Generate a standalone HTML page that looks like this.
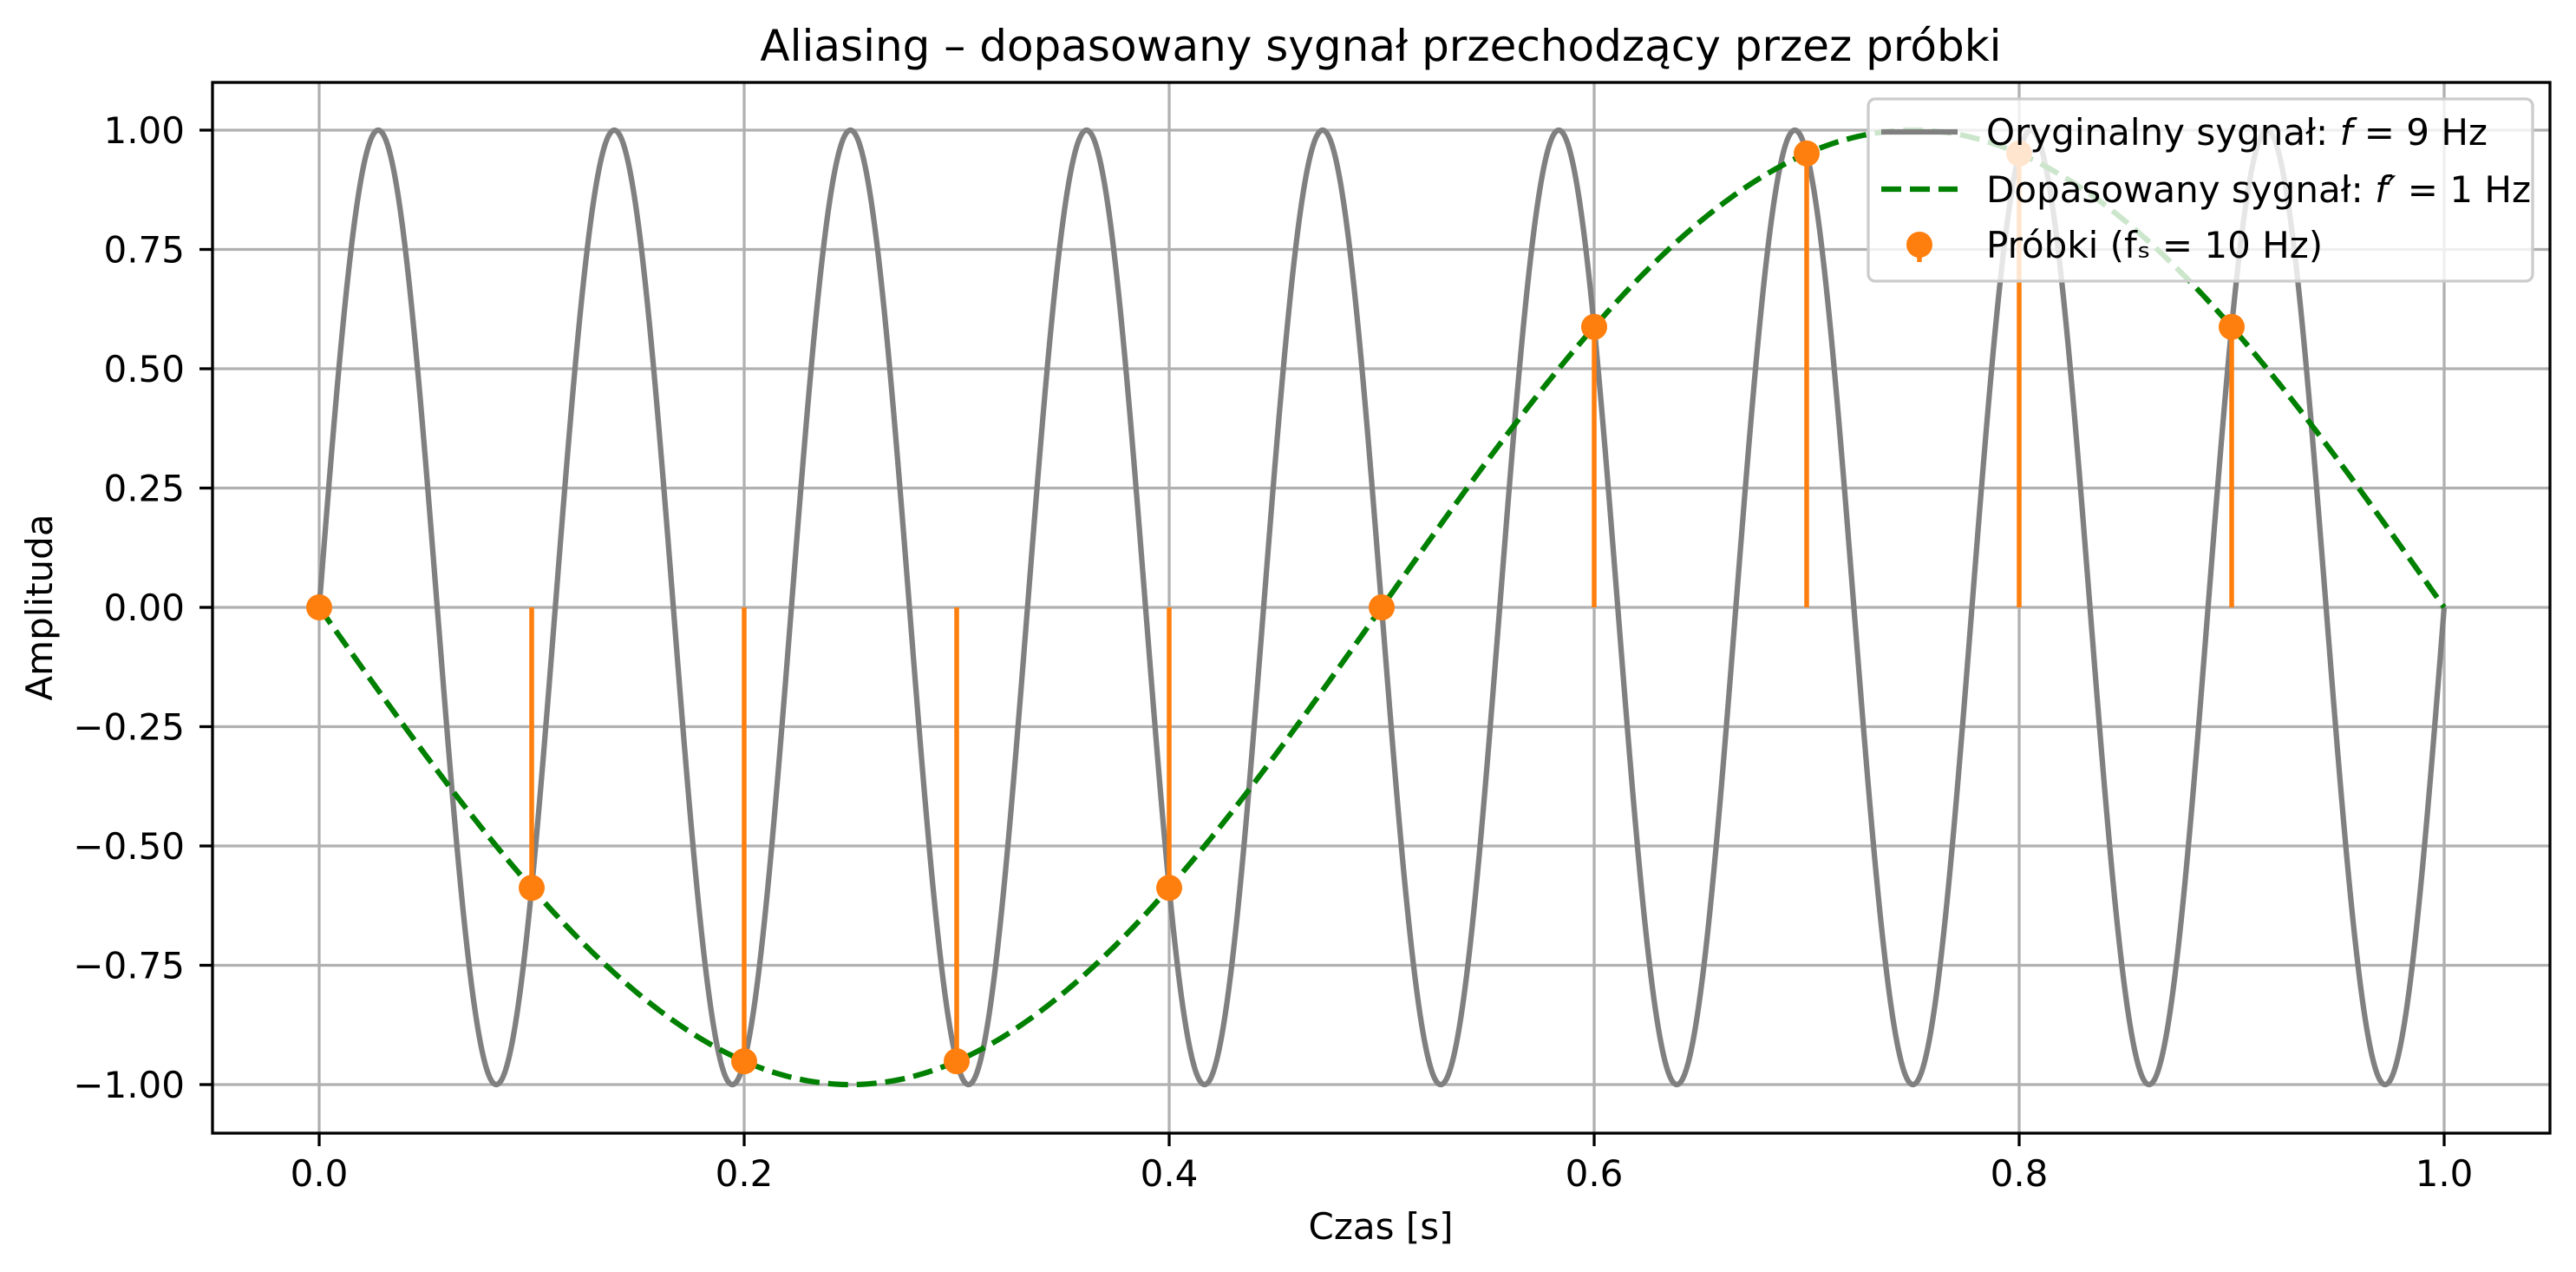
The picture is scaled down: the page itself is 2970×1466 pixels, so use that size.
<!DOCTYPE html>
<html><head><meta charset="utf-8"><style>
html,body{margin:0;padding:0;background:#fff}
svg{display:block}
text{font-family:"DejaVu Sans","Liberation Sans",sans-serif;fill:#000}
</style></head><body>
<svg id="s" width="2970" height="1466" viewBox="0 0 2970 1466" xmlns="http://www.w3.org/2000/svg">
<rect width="2970" height="1466" fill="#fff"/>
<g id="grid" stroke="#b0b0b0" stroke-width="3.3"></g>
<path id="orig" fill="none" stroke="#808080" stroke-width="6.25" stroke-linejoin="round"/>
<path id="fit" fill="none" stroke="#008000" stroke-width="6.25" stroke-dasharray="23 10"/>
<g id="stems" stroke="#ff7f0e" stroke-width="5.5"></g>
<g id="marks" fill="#ff7f0e"></g>
<rect x="245" y="95" width="2695" height="1211" fill="none" stroke="#000" stroke-width="3.3"/>
<g id="ticks" stroke="#000" stroke-width="3.3"></g>
<g id="labels" font-size="42"></g>
<text x="1592" y="70" font-size="50" text-anchor="middle">Aliasing – dopasowany sygnał przechodzący przez próbki</text>
<text x="1592" y="1428" font-size="42" text-anchor="middle">Czas [s]</text>
<text transform="translate(60,700) rotate(-90)" font-size="42" text-anchor="middle">Amplituda</text>
<g>
<rect x="2154" y="114" width="766" height="210" rx="8" fill="#fff" fill-opacity="0.8" stroke="#cccccc" stroke-width="3.3"/>
<line x1="2169" y1="152" x2="2257" y2="152" stroke="#808080" stroke-width="6.25"/>
<line x1="2169" y1="218" x2="2257" y2="218" stroke="#008000" stroke-width="6.25" stroke-dasharray="23 10"/>
<line x1="2213" y1="282" x2="2213" y2="302" stroke="#ff7f0e" stroke-width="5.5"/>
<circle cx="2213" cy="282" r="15" fill="#ff7f0e"/>
<text x="2290" y="167" font-size="42">Oryginalny sygnał: <tspan font-style="italic">f</tspan> = 9 Hz</text>
<text x="2290" y="233" font-size="42">Dopasowany sygnał: <tspan font-style="italic">f′</tspan> = 1 Hz</text>
<text x="2290" y="297" font-size="42">Próbki (fₛ = 10 Hz)</text>
</g>
</svg>
<script>
const X=t=>368+2450*t, Y=v=>700-550*v;
const ns="http://www.w3.org/2000/svg";
function el(p,tag,a,txt){const e=document.createElementNS(ns,tag);for(const k in a)e.setAttribute(k,a[k]);if(txt!=null)e.textContent=txt;document.getElementById(p).appendChild(e);}
for(let i=0;i<=5;i++){const x=X(i*0.2);el("grid","line",{x1:x,y1:95,x2:x,y2:1306});el("ticks","line",{x1:x,y1:1306,x2:x,y2:1321});el("labels","text",{x:x,y:1367,"text-anchor":"middle"},(i*0.2).toFixed(1));}
for(let i=-4;i<=4;i++){const v=i*0.25,y=Y(v);el("grid","line",{x1:245,y1:y,x2:2940,y2:y});el("ticks","line",{x1:230,y1:y,x2:245,y2:y});el("labels","text",{x:213,y:y+15,"text-anchor":"end"},(v<0?"−":"")+Math.abs(v).toFixed(2));}
let d="",d2="";for(let i=0;i<=3000;i++){const t=i/3000;d+=(i?"L":"M")+X(t).toFixed(2)+" "+Y(Math.sin(2*Math.PI*9*t)).toFixed(2);}
for(let i=0;i<=500;i++){const t=i/500;d2+=(i?"L":"M")+X(t).toFixed(2)+" "+Y(-Math.sin(2*Math.PI*t)).toFixed(2);}
document.getElementById("orig").setAttribute("d",d);document.getElementById("fit").setAttribute("d",d2);
for(let n=0;n<10;n++){const t=n/10,v=Math.sin(2*Math.PI*9*t);el("stems","line",{x1:X(t),y1:Y(0),x2:X(t),y2:Y(v)});el("marks","circle",{cx:X(t),cy:Y(v),r:15});}
</script>
</body></html>
